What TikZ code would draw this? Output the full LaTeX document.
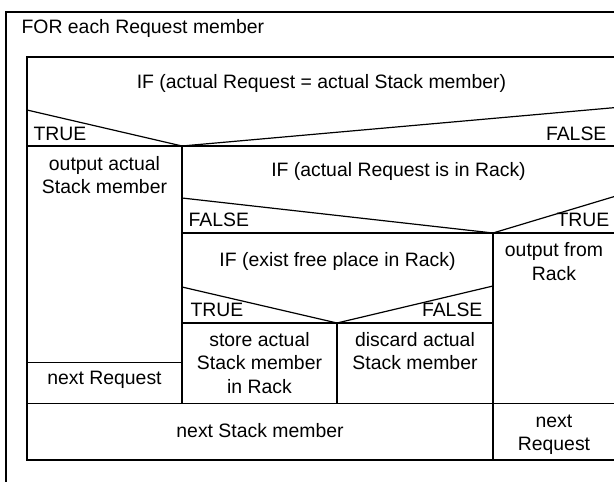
\documentclass[tikz,border=0pt]{standalone}
\usepackage{fontspec}
\setmainfont{Liberation Sans}
\begin{document}
\begin{tikzpicture}[x=1pt,y=-1pt,line width=1.2pt,
  txt/.style={inner sep=0pt,font=\fontsize{19.4}{23}\selectfont}]
\useasboundingbox (0,0) rectangle (614,482);
\clip (0,0) rectangle (614,482);
% outer loop box and inner box
\draw (6,12) rectangle (640,520);
\draw (27,57) rectangle (616,460);
% IF 1
\draw (27,110) -- (182,146) -- (616,107.5);
\draw (27,146) -- (616,146);
\draw (182,146) -- (182,404);
% IF 2
\draw (182,198) -- (493,233) -- (616,196);
\draw (182,233) -- (616,233);
\draw (493,233) -- (493,460);
% IF 3
\draw (182,287) -- (337,323) -- (493,286);
\draw (182,323) -- (493,323);
\draw (337,323) -- (337,404);
% other rows
\draw (27,362.5) -- (182,362.5);
\draw (27,403.5) -- (616,403.5);
% texts
\node[txt,anchor=base west] (for) at (21,33) {FOR each Request member};
\node[txt,anchor=base] (if1) at (321.5,88) {IF (actual Request = actual Stack member)};
\node[txt,anchor=base west] (t1) at (33,140) {TRUE};
\node[txt,anchor=base east] (f1) at (607,140) {FALSE};
\node[txt,anchor=base] (oa1) at (104.5,170.5) {output actual};
\node[txt,anchor=base] (oa2) at (104.5,193.5) {Stack member};
\node[txt,anchor=base] (if2) at (398.5,176) {IF (actual Request is in Rack)};
\node[txt,anchor=base west] (f2) at (188,226) {FALSE};
\node[txt,anchor=base east] (t2) at (610,226) {TRUE};
\node[txt,anchor=base] (of1) at (554,256.5) {output from};
\node[txt,anchor=base] (of2) at (554,280) {Rack};
\node[txt,anchor=base] (if3) at (337.5,266) {IF (exist free place in Rack)};
\node[txt,anchor=base west] (t3) at (190,316) {TRUE};
\node[txt,anchor=base east] (f3) at (483,316) {FALSE};
\node[txt,anchor=base] (st1) at (259.5,346) {store actual};
\node[txt,anchor=base] (st2) at (259.5,369.5) {Stack member};
\node[txt,anchor=base] (st3) at (259.5,393) {in Rack};
\node[txt,anchor=base] (di1) at (415,346) {discard actual};
\node[txt,anchor=base] (di2) at (415,369.5) {Stack member};
\node[txt,anchor=base] (nr) at (104.5,384) {next Request};
\node[txt,anchor=base] (ns) at (260,437) {next Stack member};
\node[txt,anchor=base] (nr1) at (554,427) {next};
\node[txt,anchor=base] (nr2) at (554,450.5) {Request};
\end{tikzpicture}
\end{document}
